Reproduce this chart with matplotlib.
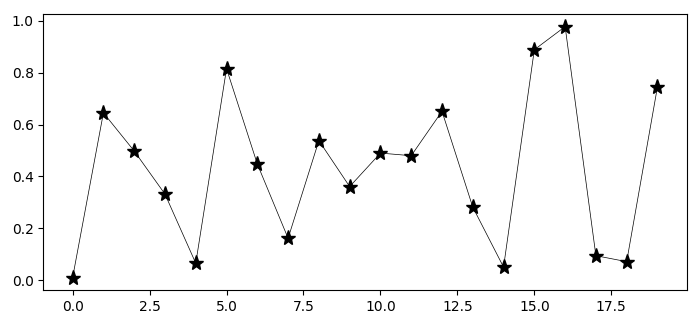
import matplotlib
matplotlib.use("Agg")
import matplotlib.pyplot as plt

x = list(range(20))
y = [0.011, 0.645, 0.498, 0.332, 0.066, 0.815, 0.448, 0.162, 0.538, 0.361,
     0.490, 0.480, 0.651, 0.282, 0.051, 0.888, 0.977, 0.095, 0.072, 0.745]

fig, ax = plt.subplots(figsize=(7, 3.27), dpi=100)
ax.plot(x, y, color="black", linewidth=0.5, marker="*", markersize=11,
        markerfacecolor="black", markeredgecolor="black")
fig.subplots_adjust(left=0.062, right=0.981, top=0.957, bottom=0.113)
fig.savefig("out.png", dpi=100)
